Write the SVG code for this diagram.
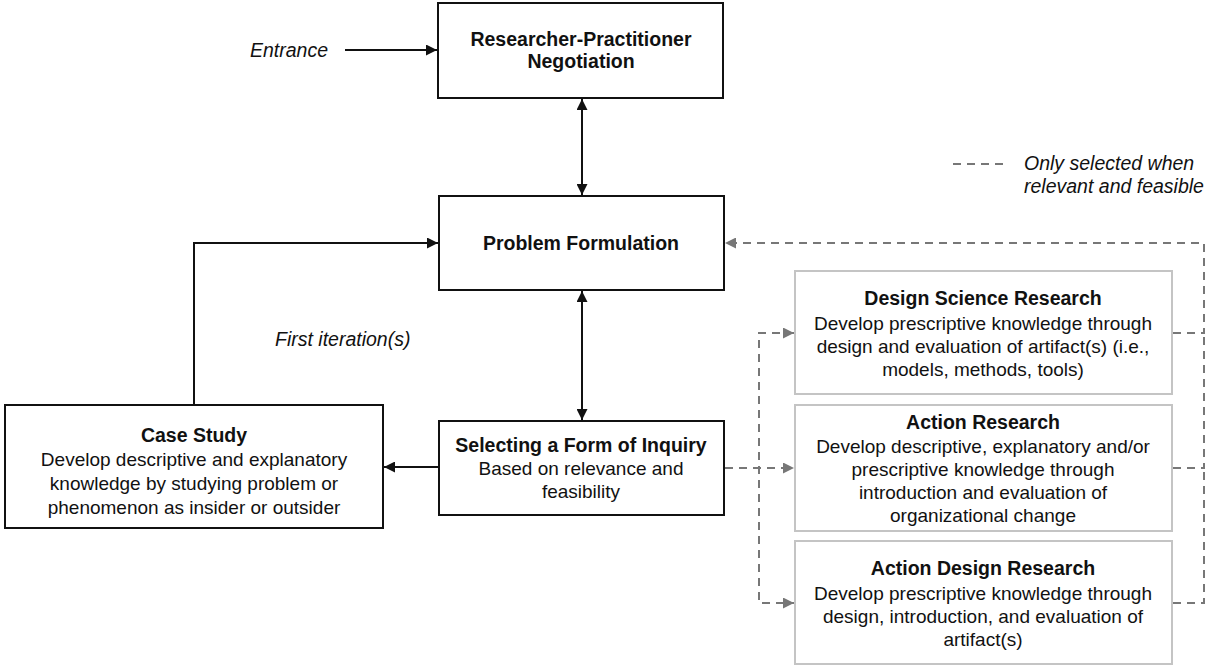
<svg xmlns="http://www.w3.org/2000/svg" width="1208" height="666" viewBox="0 0 1208 666">
<style>
.box{fill:#fff;stroke:#111;stroke-width:2}
.gbox{fill:#fff;stroke:#c4c4c4;stroke-width:2}
.t{font-family:"Liberation Sans",Arial,sans-serif;font-size:19px;fill:#111;text-anchor:middle}
.b{font-weight:bold;font-size:19.5px}
.i{font-family:"Liberation Sans",Arial,sans-serif;font-size:19.5px;font-style:italic;fill:#111}
.ln{fill:none;stroke:#111;stroke-width:2}
.dl{fill:none;stroke:#777;stroke-width:2;stroke-dasharray:8,6}
</style>
<defs>
<marker id="ah" viewBox="0 0 10 10" refX="10" refY="5" markerWidth="5.5" markerHeight="5.5" orient="auto-start-reverse"><path d="M0,0 L10,5 L0,10 z" fill="#111"/></marker>
<marker id="gh" viewBox="0 0 10 10" refX="10" refY="5" markerWidth="5.5" markerHeight="5.5" orient="auto-start-reverse"><path d="M0,0 L10,5 L0,10 z" fill="#777"/></marker>
</defs>
<g id="connectors">
<line class="ln" x1="345" y1="50" x2="437" y2="50" marker-end="url(#ah)"/>
<line class="ln" x1="582" y1="99" x2="582" y2="195" marker-start="url(#ah)" marker-end="url(#ah)"/>
<line class="ln" x1="582" y1="291" x2="582" y2="420" marker-start="url(#ah)" marker-end="url(#ah)"/>
<line class="ln" x1="439" y1="467" x2="384" y2="467" marker-end="url(#ah)"/>
<polyline class="ln" points="194,404 194,243 438,243" marker-end="url(#ah)"/>
<line class="dl" x1="725" y1="468" x2="794" y2="468" marker-end="url(#gh)"/>
<polyline class="dl" points="794,333 759,333 759,603 794,603" marker-start="url(#gh)" marker-end="url(#gh)"/>
<polyline class="dl" points="1173,333 1204,333 1204,243 725,243" marker-end="url(#gh)"/>
<polyline class="dl" points="1173,468 1204,468 1204,333"/>
<polyline class="dl" points="1173,603 1204,603 1204,468"/>
<line class="dl" x1="953" y1="164" x2="1003" y2="164"/>
</g>
<g id="legend">
<text class="i" x="1024" y="170">Only selected when</text>
<text class="i" x="1024" y="193">relevant and feasible</text>
</g>
<text class="i" x="250" y="57">Entrance</text>
<text class="i" x="275" y="346">First iteration(s)</text>
<g id="negotiation">
<rect class="box" x="438" y="3" width="285" height="95"/>
<text class="t b" x="581" y="46">Researcher-Practitioner</text>
<text class="t b" x="581" y="68">Negotiation</text>
</g>
<g id="problem">
<rect class="box" x="439" y="196" width="285" height="94"/>
<text class="t b" x="581" y="250">Problem Formulation</text>
</g>
<g id="selecting">
<rect class="box" x="439" y="421" width="285" height="94"/>
<text class="t b" x="581" y="452">Selecting a Form of Inquiry</text>
<text class="t" x="581" y="475">Based on relevance and</text>
<text class="t" x="581" y="498">feasibility</text>
</g>
<g id="casestudy">
<rect class="box" x="5" y="405" width="378" height="123"/>
<text class="t b" x="194" y="442">Case Study</text>
<text class="t" x="194" y="466">Develop descriptive and explanatory</text>
<text class="t" x="194" y="490">knowledge by studying problem or</text>
<text class="t" x="194" y="514">phenomenon as insider or outsider</text>
</g>
<g id="dsr">
<rect class="gbox" x="795" y="271" width="377" height="123"/>
<text class="t b" x="983" y="305">Design Science Research</text>
<text class="t" x="983" y="330">Develop prescriptive knowledge through</text>
<text class="t" x="983" y="353">design and evaluation of artifact(s) (i.e.,</text>
<text class="t" x="983" y="376">models, methods, tools)</text>
</g>
<g id="ar">
<rect class="gbox" x="795" y="405" width="377" height="126"/>
<text class="t b" x="983" y="429">Action Research</text>
<text class="t" x="983" y="453">Develop descriptive, explanatory and/or</text>
<text class="t" x="983" y="476">prescriptive knowledge through</text>
<text class="t" x="983" y="499">introduction and evaluation of</text>
<text class="t" x="983" y="522">organizational change</text>
</g>
<g id="adr">
<rect class="gbox" x="795" y="541" width="377" height="123"/>
<text class="t b" x="983" y="575">Action Design Research</text>
<text class="t" x="983" y="600">Develop prescriptive knowledge through</text>
<text class="t" x="983" y="623">design, introduction, and evaluation of</text>
<text class="t" x="983" y="646">artifact(s)</text>
</g>
</svg>
